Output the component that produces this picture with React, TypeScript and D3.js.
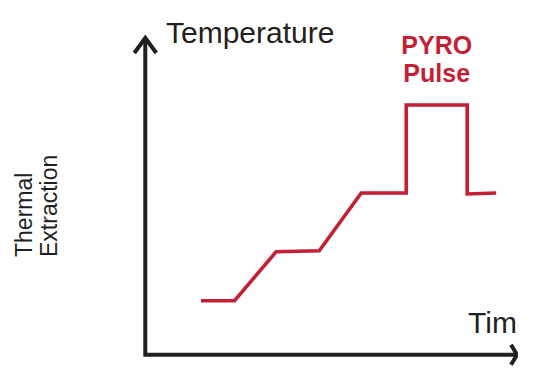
import React from "react";
import * as d3 from "d3";

const times = [15, 24, 35.2, 46.8, 58.1, 70.2, 70.2, 86.6, 86.6, 94.4];
const temps = [17, 17, 32.4, 32.7, 50.9, 50.9, 78.6, 78.6, 50.6, 50.9];
const yTitle = "Temperature";
const xTitle = "Time";
const sideLabel = ["Thermal", "Extraction"];
const pulseLabel = ["PYRO", "Pulse"];

const W = 538;
const H = 388;
const axisColor = "#231f20";
const lineColor = "#c41f35";

export default function App() {
  const x = d3.scaleLinear().domain([0, 100]).range([145.3, 517]);
  const y = d3.scaleLinear().domain([0, 100]).range([354.7, 37]);
  const pts: [number, number][] = times.map((t, i) => [t, temps[i]]);
  const line = d3
    .line<[number, number]>()
    .x((d) => x(d[0]))
    .y((d) => y(d[1]));

  const x0 = x(0);
  const y0 = y(0);
  const xEnd = x(100);
  const yEnd = y(100);

  return (
    <svg
      width={W}
      height={H}
      style={{ position: "absolute", left: 0, top: 0, background: "#fff" }}
    >
      <defs>
        <clipPath id="crop">
          <rect x={0} y={0} width={518} height={H} />
        </clipPath>
      </defs>
      <g clipPath="url(#crop)">
        <path
          d={`M${x0},${yEnd + 1} L${x0},${y0} L${xEnd - 1},${y0}`}
          fill="none"
          stroke={axisColor}
          strokeWidth={4}
          strokeLinejoin="miter"
        />
        <path
          d={`M${x0 - 11},${yEnd + 16} L${x0},${yEnd + 1} L${x0 + 11},${yEnd + 16}`}
          fill="none"
          stroke={axisColor}
          strokeWidth={4}
        />
        <path
          d={`M${xEnd - 6},${y0 - 10} L${xEnd},${y0} L${xEnd - 6},${y0 + 10}`}
          fill="none"
          stroke={axisColor}
          strokeWidth={4}
        />
        <text
          x={166}
          y={43}
          fontFamily="'Liberation Sans', Arial, sans-serif"
          fontSize={30}
          fill={axisColor}
        >
          {yTitle}
        </text>
        <text
          x={468}
          y={333}
          fontFamily="'Liberation Sans', Arial, sans-serif"
          fontSize={30}
          fill={axisColor}
        >
          {xTitle}
        </text>
        <g transform="translate(32,257) rotate(-90)">
          {sideLabel.map((s, i) => (
            <text
              key={s}
              x={0}
              y={i * 25}
              fontFamily="'Liberation Sans', Arial, sans-serif"
              fontSize={23}
              fill={axisColor}
            >
              {s}
            </text>
          ))}
        </g>
        {pulseLabel.map((s, i) => (
          <text
            key={s}
            x={(x(70.2) + x(86.6)) / 2}
            y={54 + i * 28}
            textAnchor="middle"
            fontFamily="'Liberation Sans', Arial, sans-serif"
            fontWeight="bold"
            fontSize={25}
            fill={lineColor}
          >
            {s}
          </text>
        ))}
        <path
          d={line(pts) || ""}
          fill="none"
          stroke={lineColor}
          strokeWidth={3.6}
          strokeLinejoin="miter"
        />
      </g>
    </svg>
  );
}
